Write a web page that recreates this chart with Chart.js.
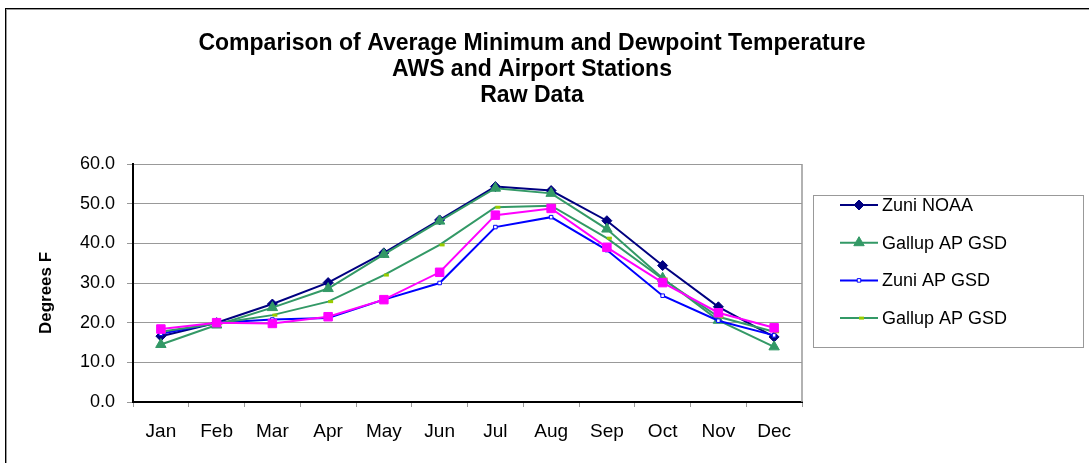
<!DOCTYPE html>
<html>
<head>
<meta charset="utf-8">
<script src="https://cdn.jsdelivr.net/npm/chart.js@4"></script>
<style>
  body { margin: 0; background: #fff; }
  #wrap { width: 1089px; height: 463px; }
</style>
</head>
<body>
<div id="wrap"><canvas id="chart" width="1089" height="463"></canvas></div>
<script>
// chart values
const months = ['Jan', 'Feb', 'Mar', 'Apr', 'May', 'Jun', 'Jul', 'Aug', 'Sep', 'Oct', 'Nov', 'Dec'];
const title_lines = [
    'Comparison of Average Minimum and Dewpoint Temperature',
    'AWS and Airport Stations',
    'Raw Data'
];
const y_title = 'Degrees F';
const zuni_noaa = [16.6, 20.0, 24.7, 30.1, 37.6, 45.9, 54.3, 53.3, 45.7, 34.4, 24.0, 16.4];
const gallup_ap = [14.5, 19.4, 23.8, 28.6, 37.2, 45.6, 53.9, 52.6, 43.6, 31.2, 20.6, 13.9];
const zuni_ap = [17.2, 20.0, 20.8, 21.2, 25.8, 30.0, 44.1, 46.6, 38.3, 26.8, 20.5, 16.8];
const gallup_ap_2 = [17.7, 19.8, 21.9, 25.3, 32.0, 39.6, 49.1, 49.5, 41.3, 31.0, 21.5, 17.7];
const dewpoint = [18.4, 20.0, 19.8, 21.5, 25.8, 32.7, 47.1, 48.8, 39.0, 30.1, 22.5, 18.7];
const y_ticks = [0, 10, 20, 30, 40, 50, 60];

const font = 'Arial, "Liberation Sans", sans-serif';

function series(label, data, color, style, radius, fill, order, in_legend) {
    return {
        label: label,
        data: data,
        borderColor: color,
        borderWidth: 2,
        pointStyle: style,
        pointRadius: radius,
        pointHoverRadius: radius,
        pointBackgroundColor: fill,
        pointBorderColor: style === 'dash' ? '#99cc00' : fill,
        pointBorderWidth: style === 'dash' ? 3 : 1,
        order: order,
        in_legend: in_legend,
        tension: 0,
    };
}

const datasets = [
    series('Zuni NOAA', zuni_noaa, '#000080', 'rectRot', 5, '#000080', 4, true),
    series('Gallup AP GSD', gallup_ap, '#339966', 'triangle', 6, '#339966', 3, true),
    series('Zuni AP GSD', zuni_ap, '#0000ff', 'rect', 2.5, '#ffffff', 2, true),
    series('Gallup AP GSD', gallup_ap_2, '#339966', 'dash', 5, '#99cc00', 1, true),
    series('Dewpoint', dewpoint, '#ff00ff', 'rect', 6, '#ff00ff', 0, false),
];
datasets[2].pointBorderColor = '#0000ff';

// page frame, titles, plot border and the boxed legend
const decor = {
    id: 'decor',
    beforeDraw(c) {
        const ctx = c.ctx;
        ctx.save();
        ctx.fillStyle = '#fff';
        ctx.fillRect(0, 0, c.width, c.height);
        ctx.strokeStyle = '#999';
        ctx.lineWidth = 1;
        ctx.strokeRect(6.5, 9.5, 1100, 500);
        ctx.strokeStyle = '#000';
        ctx.strokeRect(5.5, 8.5, 1100, 500);
        ctx.restore();
    },
    beforeDatasetsDraw(c) {
        const ctx = c.ctx, a = c.chartArea;
        ctx.save();
        ctx.strokeStyle = '#999';
        ctx.lineWidth = 1.5;
        ctx.beginPath();
        ctx.moveTo(a.right, a.top);
        ctx.lineTo(a.right, a.bottom);
        ctx.stroke();
        ctx.restore();
    },
    afterDraw(c) {
        const ctx = c.ctx;
        ctx.save();
        ctx.fillStyle = '#000';
        ctx.textAlign = 'center';
        ctx.textBaseline = 'alphabetic';
        ctx.font = 'bold 23px ' + font;
        title_lines.forEach((t, i) => ctx.fillText(t, 532, 50 + i * 26));

        // y axis title
        ctx.save();
        ctx.translate(46, 293);
        ctx.rotate(-Math.PI / 2);
        ctx.textBaseline = 'middle';
        ctx.font = 'bold 17px ' + font;
        ctx.fillText(y_title, 0, 0);
        ctx.restore();

        ctx.strokeStyle = '#999';
        ctx.lineWidth = 1;
        ctx.strokeRect(813.5, 195.5, 270, 152);
        ctx.font = '18px ' + font;
        ctx.textAlign = 'left';
        ctx.textBaseline = 'middle';
        let y = 205;
        c.data.datasets.forEach(ds => {
            if (!ds.in_legend) return;
            ctx.strokeStyle = ds.borderColor;
            ctx.lineWidth = 2;
            ctx.beginPath();
            ctx.moveTo(840, y);
            ctx.lineTo(878, y);
            ctx.stroke();
            ctx.fillStyle = ds.pointBackgroundColor;
            ctx.strokeStyle = ds.pointBorderColor;
            ctx.lineWidth = ds.pointBorderWidth;
            Chart.helpers.drawPoint(ctx, {
                pointStyle: ds.pointStyle, radius: ds.pointRadius, rotation: 0,
                borderWidth: ds.pointBorderWidth
            }, 859, y);
            ctx.fillStyle = '#000';
            ctx.fillText(ds.label, 882, y + 1);
            y += 37.7;
        });
        ctx.restore();
    }
};

new Chart(document.getElementById('chart'), {
    type: 'line',
    data: { labels: months, datasets: datasets },
    plugins: [decor],
    options: {
        responsive: false,
        animation: false,
        layout: { padding: { top: 164, right: 287, left: 0, bottom: 0 } },
        plugins: {
            legend: { display: false },
            tooltip: { enabled: false },
        },
        scales: {
            x: {
                offset: true,
                grid: {
                    offset: true, drawOnChartArea: false, drawTicks: true,
                    tickLength: 5, color: '#999'
                },
                border: { color: '#000', width: 2 },
                ticks: { color: '#000', font: { family: font, size: 19 }, padding: 13, maxRotation: 0 },
                afterFit(s) { s.height = 61; }
            },
            y: {
                min: 0,
                max: 60,
                afterBuildTicks(s) { s.ticks = y_ticks.map(v => ({ value: v })); },
                grid: { color: '#999', tickLength: 6, lineWidth: 1 },
                border: { color: '#000', width: 2 },
                ticks: {
                    color: '#000', font: { family: font, size: 18 }, padding: 12,
                    callback: v => v.toFixed(1)
                },
                afterFit(s) { s.width = 133; }
            }
        }
    }
});
</script>
</body>
</html>
